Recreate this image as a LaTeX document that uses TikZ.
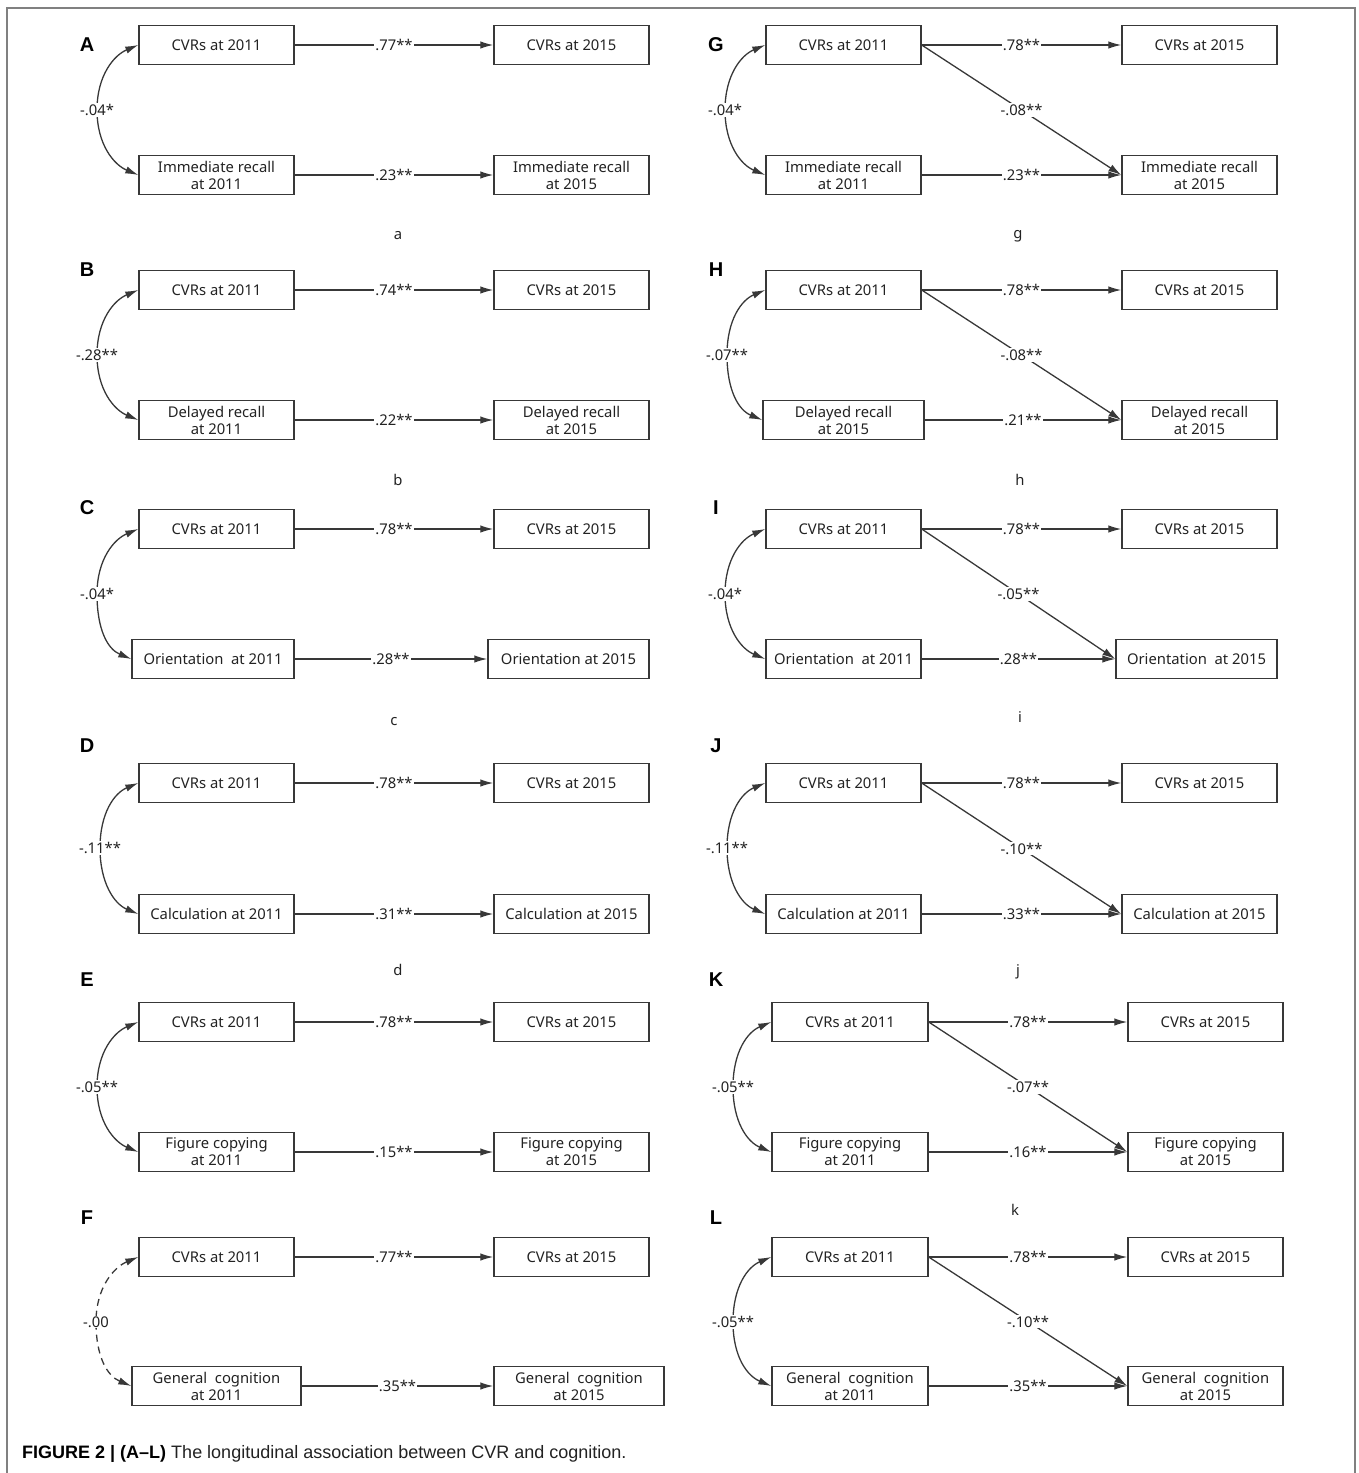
\documentclass[tikz,border=0pt]{standalone}
\usepackage{fontspec}
\setmainfont{Noto Sans}
\newfontfamily\capfont{Liberation Sans}
\usetikzlibrary{arrows.meta}
\definecolor{ln}{HTML}{383838}
\definecolor{tx}{HTML}{222222}
\definecolor{fr}{HTML}{808080}
\tikzset{
 box/.style={draw=ln, line width=1.4pt, minimum height=39pt, inner sep=0pt, align=center, font=\fontsize{14.8}{17}\selectfont, text=tx},
 arr/.style={draw=ln, line width=1.3pt, -{Latex[length=13pt,width=7.5pt]}},
 corr/.style={draw=ln, line width=1.3pt, {Latex[length=13pt,width=7.5pt]}-{Latex[length=13pt,width=7.5pt]}},
 lab/.style={fill=white, inner sep=1pt, font=\fontsize{14.8}{17}\selectfont, text=tx},
 plab/.style={font=\capfont\bfseries\fontsize{20}{22}\selectfont, text=black},
 slab/.style={font=\fontsize{14.8}{17}\selectfont, text=tx},
 w155/.style={minimum width=155pt},
}
\begin{document}
\begin{tikzpicture}[x=1pt,y=-1pt]
\useasboundingbox (0,0) rectangle (1358,1473);
\draw[fr, line width=2pt] (7,1473) -- (7,8) -- (1355,8) -- (1355,1473);

% ---------- Panel A ----------
\node[plab] (pA) at (87,45) {A};
\node[box,w155] (a1) at (216.5,45) {CVRs at 2011};
\node[box,w155] (a2) at (571.5,45) {CVRs at 2015};
\node[box,w155] (a3) at (216.5,175) {Immediate recall\\at 2011};
\node[box,w155] (a4) at (571.5,175) {Immediate recall\\at 2015};
\draw[arr] (a1) -- node[lab]{.77**} (a2);
\draw[arr] (a3) -- node[lab]{.23**} (a4);
\draw[corr] (a1.west) .. controls +(-24,10) and +(0,-35) .. (97,110) node[lab]{-.04*} .. controls +(0,35) and +(-24,-10) .. (a3.west);
\node[slab] (sa) at (398,236) {a};

% ---------- Panel B ----------
\node[plab] (pB) at (87,270) {B};
\node[box,w155] (b1) at (216.5,290) {CVRs at 2011};
\node[box,w155] (b2) at (571.5,290) {CVRs at 2015};
\node[box,w155] (b3) at (216.5,420) {Delayed recall\\at 2011};
\node[box,w155] (b4) at (571.5,420) {Delayed recall\\at 2015};
\draw[arr] (b1) -- node[lab]{.74**} (b2);
\draw[arr] (b3) -- node[lab]{.22**} (b4);
\draw[corr] (b1.west) .. controls +(-24,10) and +(0,-35) .. (97,355) node[lab]{-.28**} .. controls +(0,35) and +(-24,-10) .. (b3.west);
\node[slab] (sb) at (398,480) {b};

% ---------- Panel C ----------
\node[plab] (pC) at (87,508) {C};
\node[box,w155] (c1) at (216.5,529) {CVRs at 2011};
\node[box,w155] (c2) at (571.5,529) {CVRs at 2015};
\node[box,minimum width=162pt] (c3) at (213,659) {Orientation\ \ at 2011};
\node[box,minimum width=161pt] (c4) at (568.5,659) {Orientation at 2015};
\draw[arr] (c1) -- node[lab]{.78**} (c2);
\draw[arr] (c3) -- node[lab]{.28**} (c4);
\draw[corr] (c1.west) .. controls +(-24,10) and +(0,-35) .. (97,594) node[lab]{-.04*} .. controls +(0,35) and +(-24,-10) .. (c3.west);
\node[slab] (sc) at (394,722) {c};

% ---------- Panel D ----------
\node[plab] (pD) at (87,746) {D};
\node[box,w155] (d1) at (216.5,783) {CVRs at 2011};
\node[box,w155] (d2) at (571.5,783) {CVRs at 2015};
\node[box,w155] (d3) at (216.5,914) {Calculation at 2011};
\node[box,w155] (d4) at (571.5,914) {Calculation at 2015};
\draw[arr] (d1) -- node[lab]{.78**} (d2);
\draw[arr] (d3) -- node[lab]{.31**} (d4);
\draw[corr] (d1.west) .. controls +(-24,10) and +(0,-35) .. (100,848) node[lab]{-.11**} .. controls +(0,35) and +(-24,-10) .. (d3.west);
\node[slab] (sd) at (398,970) {d};

% ---------- Panel E ----------
\node[plab] (pE) at (87,980) {E};
\node[box,w155] (e1) at (216.5,1022) {CVRs at 2011};
\node[box,w155] (e2) at (571.5,1022) {CVRs at 2015};
\node[box,w155] (e3) at (216.5,1152) {Figure copying\\at 2011};
\node[box,w155] (e4) at (571.5,1152) {Figure copying\\at 2015};
\draw[arr] (e1) -- node[lab]{.78**} (e2);
\draw[arr] (e3) -- node[lab]{.15**} (e4);
\draw[corr] (e1.west) .. controls +(-24,10) and +(0,-35) .. (97,1087) node[lab]{-.05**} .. controls +(0,35) and +(-24,-10) .. (e3.west);

% ---------- Panel F ----------
\node[plab] (pF) at (87,1218) {F};
\node[box,w155] (f1) at (216.5,1257) {CVRs at 2011};
\node[box,w155] (f2) at (571.5,1257) {CVRs at 2015};
\node[box,minimum width=169pt] (f3) at (216.5,1386) {General\ \ cognition\\at 2011};
\node[box,minimum width=170pt] (f4) at (579,1386) {General\ \ cognition\\at 2015};
\draw[arr] (f1) -- node[lab]{.77**} (f2);
\draw[arr] (f3) -- node[lab]{.35**} (f4);
\draw[corr,dashed,dash pattern=on 7pt off 5pt] (f1.west) .. controls +(-24,10) and +(0,-35) .. (96,1322) node[lab,solid]{-.00} .. controls +(0,35) and +(-24,-10) .. (f3.west);

% ---------- Panel G ----------
\node[plab] (pG) at (716,45) {G};
\node[box,w155] (g1) at (843.5,45) {CVRs at 2011};
\node[box,w155] (g2) at (1199.5,45) {CVRs at 2015};
\node[box,w155] (g3) at (843.5,175) {Immediate recall\\at 2011};
\node[box,w155] (g4) at (1199.5,175) {Immediate recall\\at 2015};
\draw[arr] (g1) -- node[lab]{.78**} (g2);
\draw[arr] (g3) -- node[lab]{.23**} (g4);
\draw[arr] (g1.east) -- node[lab]{-.08**} (g4.west);
\draw[corr] (g1.west) .. controls +(-24,10) and +(0,-35) .. (725,110) node[lab]{-.04*} .. controls +(0,35) and +(-24,-10) .. (g3.west);
\node[slab] (sg) at (1018,236) {g};

% ---------- Panel H ----------
\node[plab] (pH) at (716,270) {H};
\node[box,w155] (h1) at (843.5,290) {CVRs at 2011};
\node[box,w155] (h2) at (1199.5,290) {CVRs at 2015};
\node[box,minimum width=161pt] (h3) at (843.5,420) {Delayed recall\\at 2015};
\node[box,w155] (h4) at (1199.5,420) {Delayed recall\\at 2015};
\draw[arr] (h1) -- node[lab]{.78**} (h2);
\draw[arr] (h3) -- node[lab]{.21**} (h4);
\draw[arr] (h1.east) -- node[lab]{-.08**} (h4.west);
\draw[corr] (h1.west) .. controls +(-24,10) and +(0,-35) .. (727,355) node[lab]{-.07**} .. controls +(0,35) and +(-24,-10) .. (h3.west);
\node[slab] (sh) at (1020,480) {h};

% ---------- Panel I ----------
\node[plab] (pI) at (716,508) {I};
\node[box,w155] (i1) at (843.5,529) {CVRs at 2011};
\node[box,w155] (i2) at (1199.5,529) {CVRs at 2015};
\node[box,w155] (i3) at (843.5,659) {Orientation\ \ at 2011};
\node[box,minimum width=161pt] (i4) at (1196.5,659) {Orientation\ \ at 2015};
\draw[arr] (i1) -- node[lab]{.78**} (i2);
\draw[arr] (i3) -- node[lab]{.28**} (i4);
\draw[arr] (i1.east) -- node[lab]{-.05**} (i4.west);
\draw[corr] (i1.west) .. controls +(-24,10) and +(0,-35) .. (725,594) node[lab]{-.04*} .. controls +(0,35) and +(-24,-10) .. (i3.west);
\node[slab] (si) at (1020,717) {i};

% ---------- Panel J ----------
\node[plab] (pJ) at (716,746) {J};
\node[box,w155] (j1) at (843.5,783) {CVRs at 2011};
\node[box,w155] (j2) at (1199.5,783) {CVRs at 2015};
\node[box,w155] (j3) at (843.5,914) {Calculation at 2011};
\node[box,w155] (j4) at (1199.5,914) {Calculation at 2015};
\draw[arr] (j1) -- node[lab]{.78**} (j2);
\draw[arr] (j3) -- node[lab]{.33**} (j4);
\draw[arr] (j1.east) -- node[lab]{-.10**} (j4.west);
\draw[corr] (j1.west) .. controls +(-24,10) and +(0,-35) .. (727,848) node[lab]{-.11**} .. controls +(0,35) and +(-24,-10) .. (j3.west);
\node[slab] (sj) at (1018,972) {j};

% ---------- Panel K ----------
\node[plab] (pK) at (716,980) {K};
\node[box,minimum width=156pt] (k1) at (850,1022) {CVRs at 2011};
\node[box,w155] (k2) at (1205.5,1022) {CVRs at 2015};
\node[box,minimum width=156pt] (k3) at (850,1152) {Figure copying\\at 2011};
\node[box,w155] (k4) at (1205.5,1152) {Figure copying\\at 2015};
\draw[arr] (k1) -- node[lab]{.78**} (k2);
\draw[arr] (k3) -- node[lab]{.16**} (k4);
\draw[arr] (k1.east) -- node[lab]{-.07**} (k4.west);
\draw[corr] (k1.west) .. controls +(-24,10) and +(0,-35) .. (733,1087) node[lab]{-.05**} .. controls +(0,35) and +(-24,-10) .. (k3.west);
\node[slab] (sk) at (1015,1210) {k};

% ---------- Panel L ----------
\node[plab] (pL) at (716,1218) {L};
\node[box,minimum width=156pt] (l1) at (850,1257) {CVRs at 2011};
\node[box,w155] (l2) at (1205.5,1257) {CVRs at 2015};
\node[box,minimum width=156pt] (l3) at (850,1386) {General\ \ cognition\\at 2011};
\node[box,w155] (l4) at (1205.5,1386) {General\ \ cognition\\at 2015};
\draw[arr] (l1) -- node[lab]{.78**} (l2);
\draw[arr] (l3) -- node[lab]{.35**} (l4);
\draw[arr] (l1.east) -- node[lab]{-.10**} (l4.west);
\draw[corr] (l1.west) .. controls +(-24,10) and +(0,-35) .. (733,1322) node[lab]{-.05**} .. controls +(0,35) and +(-24,-10) .. (l3.west);

% ---------- Caption ----------
\node[anchor=west, inner sep=0pt, font=\capfont\fontsize{18}{21}\selectfont, text=tx] (cap) at (22,1454) {\textcolor{black}{\bfseries FIGURE 2 | (A–L)} The longitudinal association between CVR and cognition.};
\end{tikzpicture}
\end{document}
